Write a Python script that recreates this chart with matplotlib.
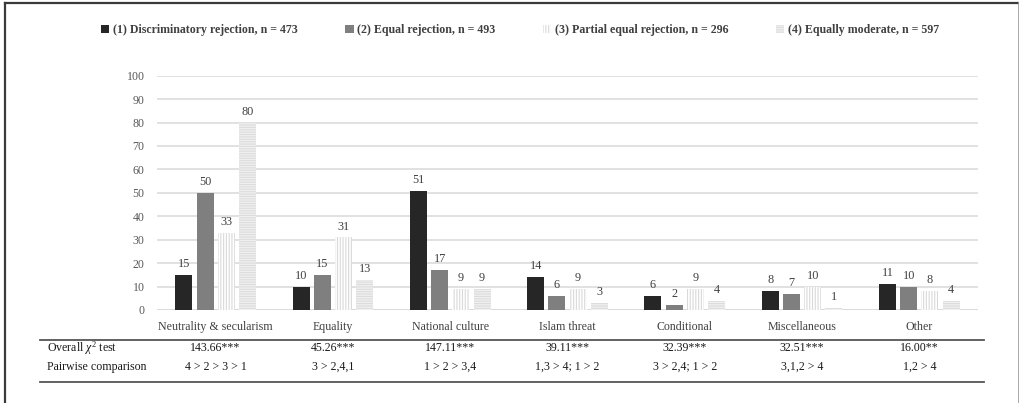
import matplotlib
matplotlib.use("Agg")
import matplotlib.pyplot as plt
from matplotlib.lines import Line2D
import numpy as np

plt.rcParams['font.family'] = ['Liberation Serif', 'DejaVu Serif']
plt.rcParams['mathtext.fontset'] = 'custom'
plt.rcParams['mathtext.rm'] = 'Liberation Serif'
plt.rcParams['mathtext.it'] = 'Liberation Serif:italic'
plt.rcParams['hatch.linewidth'] = 0.8

categories = ["Neutrality & secularism", "Equality", "National culture",
              "Islam threat", "Conditional", "Miscellaneous", "Other"]
series_names = ["(1) Discriminatory rejection, n = 473",
                "(2) Equal rejection, n = 493",
                "(3) Partial equal rejection, n = 296",
                "(4) Equally moderate, n = 597"]
discriminatory = [15, 10, 51, 14, 6, 8, 11]
equal_rej = [50, 15, 17, 6, 2, 7, 10]
partial_equal = [33, 31, 9, 9, 9, 10, 8]
equally_moderate = [80, 13, 9, 3, 4, 1, 4]
chi2_test = ["143.66***", "45.26***", "147.11***", "39.11***",
             "32.39***", "32.51***", "16.00**"]
pairwise = ["4 > 2 > 3 > 1", "3 > 2,4,1", "1 > 2 > 3,4", "1,3 > 4; 1 > 2",
            "3 > 2,4; 1 > 2", "3,1,2 > 4", "1,2 > 4"]
yticks = [0, 10, 20, 30, 40, 50, 60, 70, 80, 90, 100]

W, H = 1020, 403
fig = plt.figure(figsize=(W / 100, H / 100), dpi=100)
fig.patch.set_facecolor("white")

def fx(px):
    return px / W

def fy(py):
    return 1 - py / H

FS = 8.6

ax = fig.add_axes([fx(157), fy(310), (978 - 157) / W, (310 - 75.7) / H])

x = np.arange(len(categories))
width = 0.145
pitch = 0.181
styles = [
    dict(color="#262626"),
    dict(color="#7f7f7f"),
    dict(facecolor="white", edgecolor="#d9d9d9", hatch="||||||", linewidth=0),
    dict(facecolor="#f0f0f0", edgecolor="#dcdcdc", hatch="-------", linewidth=0),
]
all_series = [discriminatory, equal_rej, partial_equal, equally_moderate]
handles = []
for i, (vals, st) in enumerate(zip(all_series, styles)):
    offs = (i - 1.5) * pitch
    bars = ax.bar(x + offs, vals, width, zorder=3, **st)
    handles.append(bars)
    for b, v in zip(bars, vals):
        ax.annotate(str(v), (b.get_x() + b.get_width() / 2, v),
                    xytext=(0, 3.5), textcoords="offset points",
                    ha="center", va="bottom", fontsize=8.8, color="#404040")

ax.set_xlim(-0.5, len(categories) - 0.5)
ax.set_ylim(0, 100)
ax.set_yticks(yticks)
ax.set_yticklabels([str(t) for t in yticks])
ax.yaxis.grid(True, color="#d9d9d9", linewidth=1.1, zorder=0)
ax.set_axisbelow(True)
for s in ax.spines.values():
    s.set_visible(False)
ax.tick_params(axis="y", length=0, pad=9, labelsize=FS, labelcolor="#595959")
ax.set_xticks(x)
ax.set_xticklabels(categories)
ax.tick_params(axis="x", length=0, pad=8, labelsize=FS, labelcolor="#404040")
# light base line at zero
ax.axhline(0, color="#d9d9d9", linewidth=1.1, zorder=2)

leg = fig.legend(handles, series_names, loc="center",
                 bbox_to_anchor=(fx(520), fy(30)), ncol=4, frameon=False,
                 handlelength=0.7, handleheight=0.7, handletextpad=0.3,
                 columnspacing=4.0,
                 prop=dict(family="Liberation Serif", weight="bold", size=8.55))
for t in leg.get_texts():
    t.set_color("#404040")

# statistics table below the chart
rule_kw = dict(color="#555555", linewidth=1.3, transform=fig.transFigure)
fig.add_artist(Line2D([fx(40), fx(984)], [fy(340), fy(340)], **rule_kw))
fig.add_artist(Line2D([fx(40), fx(984)], [fy(382), fy(382)], **rule_kw))

tcol = "#1a1a1a"
fig.text(fx(47), fy(348), r"Overall $\chi^2_{}$ test", ha="left", va="center",
         fontsize=FS, color=tcol)
fig.text(fx(47), fy(367), "Pairwise comparison", ha="left", va="center",
         fontsize=FS, color=tcol)
for i in range(len(categories)):
    xc = ax.transData.transform((x[i], 0))[0] / W
    fig.text(xc, fy(348), chi2_test[i], ha="center", va="center",
             fontsize=FS, color=tcol)
    fig.text(xc, fy(367), pairwise[i], ha="center", va="center",
             fontsize=FS, color=tcol)

# outer frame
fig.add_artist(Line2D([fx(5), fx(5)], [fy(3), 0], color="#3a3a3a", linewidth=1.6,
                      transform=fig.transFigure))
fig.add_artist(Line2D([fx(5), fx(1019)], [fy(3), fy(3)], color="#3a3a3a",
                      linewidth=1.6, transform=fig.transFigure))
fig.add_artist(Line2D([fx(1019), fx(1019)], [fy(3), 0], color="#9a9a9a",
                      linewidth=1.2, transform=fig.transFigure))

fig.savefig("out.png", dpi=100, facecolor="white")
